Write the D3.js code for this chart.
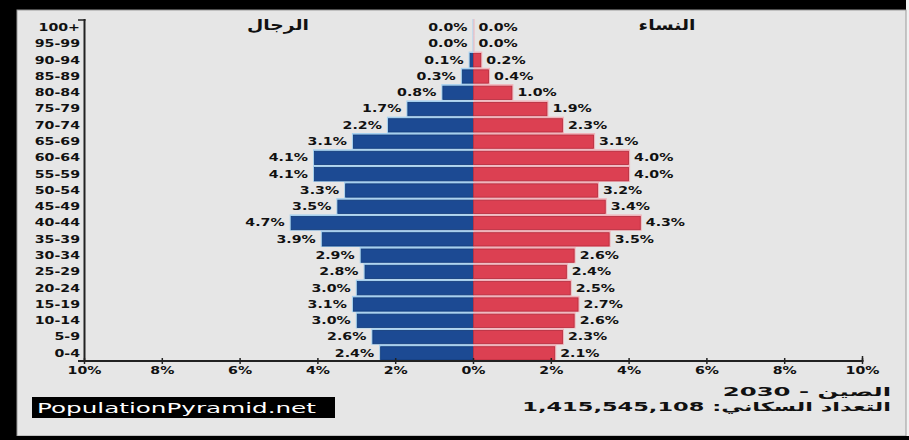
<!DOCTYPE html>
<html><head><meta charset="utf-8">
<script src="https://cdn.jsdelivr.net/npm/d3@7"></script>
<style>html,body{margin:0;padding:0;background:#000;}svg{display:block;}</style>
</head><body>
<svg id="c" width="909" height="440"></svg>
<script>
const ages = ["0-4","5-9","10-14","15-19","20-24","25-29","30-34","35-39","40-44","45-49","50-54","55-59","60-64","65-69","70-74","75-79","80-84","85-89","90-94","95-99","100+"];
const male = [2.4,2.6,3.0,3.1,3.0,2.8,2.9,3.9,4.7,3.5,3.3,4.1,4.1,3.1,2.2,1.7,0.8,0.3,0.1,0.0,0.0];
const female = [2.1,2.3,2.6,2.7,2.5,2.4,2.6,3.5,4.3,3.4,3.2,4.0,4.0,3.1,2.3,1.9,1.0,0.4,0.2,0.0,0.0];
const xTicks = [-10,-8,-6,-4,-2,0,2,4,6,8,10];
const leftTitle = "الرجال";
const rightTitle = "النساء";
const countryLine = "الصين - 2030";
const popLine = "التعداد السكاني: 1,415,545,108";
const brand = "PopulationPyramid.net";

const svg = d3.select("#c");
const FONT = "'DejaVu Sans', sans-serif";

// background panel
svg.append("rect").attr("x",906).attr("y",0).attr("width",3).attr("height",436).attr("fill","#f2f2f2");
svg.append("rect").attr("x",17).attr("y",10).attr("width",889).attr("height",426).attr("fill","#e6e6e6").attr("stroke","#9a9a9a").attr("stroke-width",1);

const x = d3.scaleLinear().domain([-10,10]).range([84.5,862.5]);
const y = d3.scaleBand().domain(ages.slice().reverse()).range([19,361]).padding(0);

function stext(sel, xx, yy, s, opts){
  const g = sel.append("g").attr("transform",`translate(${xx},${yy}) scale(${opts.sx||1},1)`);
  const t = g.append("text").attr("x",0).attr("y",0)
    .attr("font-family",FONT).attr("font-size",opts.size||10.5)
    .attr("font-weight",opts.weight||"bold").attr("fill",opts.fill||"#111")
    .attr("text-anchor",opts.anchor||"start");
  if(opts.rtl) t.attr("direction","rtl");
  if(opts.dy) t.attr("dy",opts.dy);
  t.text(s);
  return t;
}

const bw = y.bandwidth();
const rows = ages.map((a,i)=>({age:a,m:male[i],f:female[i]}));

// male bars
const gm = svg.append("g");
rows.forEach(d=>{
  const x0 = x(-d.m), x1 = x(0);
  gm.append("rect").attr("x",x0-1).attr("y",y(d.age)).attr("width",x1-x0+1).attr("height",bw).attr("fill","#a6d0ef");
  gm.append("rect").attr("x",x0+0.5).attr("y",y(d.age)+2).attr("width",Math.max(0,x1-x0-0.5)).attr("height",bw-3)
    .attr("fill","#1c4a93").attr("stroke","#123a78").attr("stroke-width",0.8);
});
const gf = svg.append("g");
rows.forEach(d=>{
  const x0 = x(0), x1 = x(d.f);
  gf.append("rect").attr("x",x0).attr("y",y(d.age)).attr("width",x1-x0+1).attr("height",bw).attr("fill","#f0b4bb");
  gf.append("rect").attr("x",x0).attr("y",y(d.age)+2).attr("width",Math.max(0,x1-x0-0.5)).attr("height",bw-3)
    .attr("fill","#dc4052").attr("stroke","#b52a3b").attr("stroke-width",0.8);
});

// value labels
rows.forEach(d=>{
  const cy = y(d.age)+bw/2;
  stext(svg, x(-d.m)-6, cy, d.m.toFixed(1)+"%", {sx:1.35, anchor:"end", dy:"0.36em"});
  stext(svg, x(d.f)+5, cy, d.f.toFixed(1)+"%", {sx:1.35, anchor:"start", dy:"0.36em"});
});

// axes
svg.append("line").attr("x1",x(-10)).attr("x2",x(-10)).attr("y1",19).attr("y2",362).attr("stroke","#222").attr("stroke-width",2);
svg.append("line").attr("x1",78).attr("x2",x(-10)+1).attr("y1",20).attr("y2",20).attr("stroke","#222").attr("stroke-width",1.5);
svg.append("line").attr("x1",78).attr("x2",x(10)+1).attr("y1",361).attr("y2",361).attr("stroke","#222").attr("stroke-width",2);
svg.append("line").attr("x1",x(10)).attr("x2",x(10)).attr("y1",356).attr("y2",361).attr("stroke","#222").attr("stroke-width",1.5);
xTicks.forEach(t=>{
  svg.append("line").attr("x1",x(t)).attr("x2",x(t)).attr("y1",358).attr("y2",364).attr("stroke","#222").attr("stroke-width",1.5);
  stext(svg, x(t), 374, Math.abs(t)+"%", {sx:1.35, anchor:"middle"});
});
// age labels
ages.forEach(a=>{
  stext(svg, 80, y(a)+bw/2, a, {sx:1.35, anchor:"end", dy:"0.36em"});
});

// titles
stext(svg, 278, 30, leftTitle, {size:15, sx:1.25, anchor:"middle"});
stext(svg, 667, 30, rightTitle, {size:15, sx:1.25, anchor:"middle"});

// bottom right
stext(svg, 891, 396, countryLine, {size:12.5, sx:1.95, anchor:"start", rtl:true});
stext(svg, 891, 411, popLine, {size:12.5, sx:1.8, anchor:"start", rtl:true});

// brand box
svg.append("rect").attr("x",32).attr("y",397).attr("width",303).attr("height",21).attr("fill","#000");
stext(svg, 37, 413, brand, {size:14.5, sx:1.7, weight:"normal", fill:"#fff", anchor:"start"});

// bottom black band
svg.append("rect").attr("x",0).attr("y",436).attr("width",909).attr("height",4).attr("fill","#000");
</script>
</body></html>
